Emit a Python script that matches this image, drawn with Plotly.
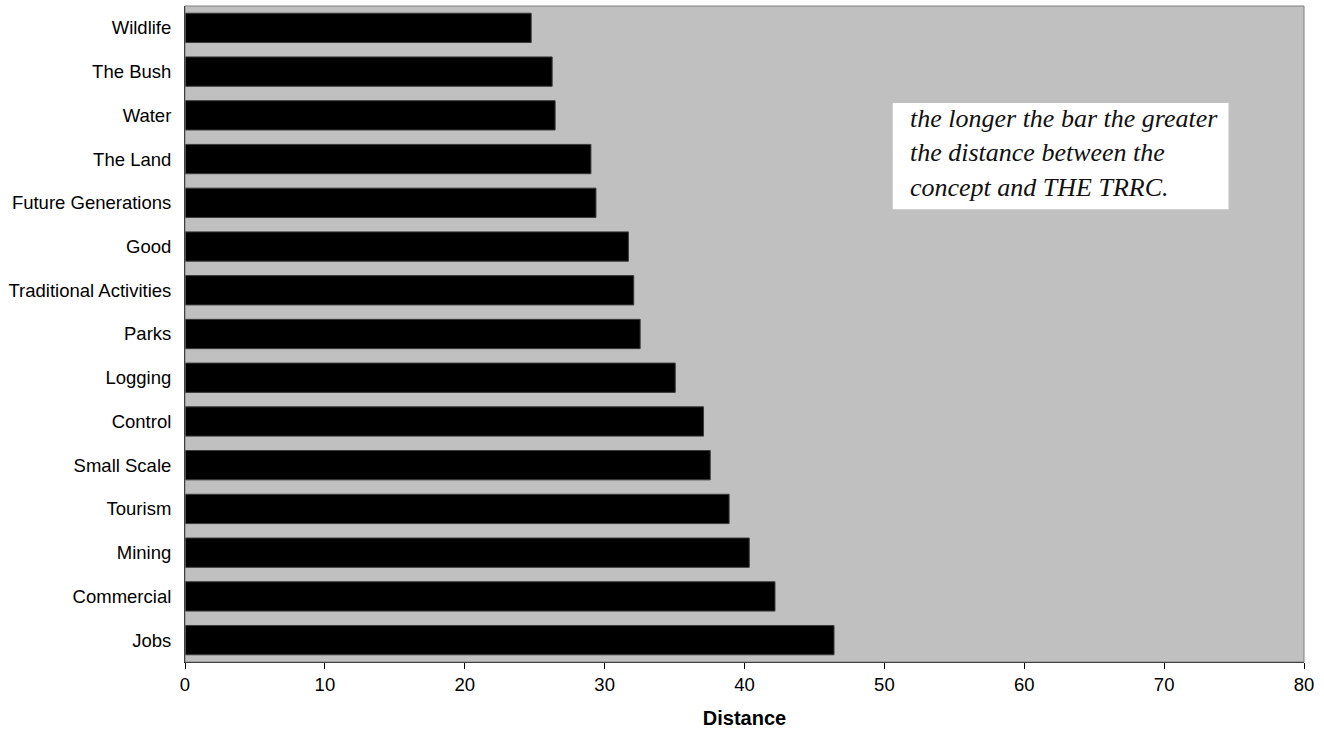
import plotly.graph_objects as go

categories = ["Wildlife", "The Bush", "Water", "The Land", "Future Generations", "Good",
              "Traditional Activities", "Parks", "Logging", "Control", "Small Scale",
              "Tourism", "Mining", "Commercial", "Jobs"]
distance = [24.75, 26.25, 26.46, 29.02, 29.38, 31.7, 32.08, 32.54, 35.05, 37.07,
            37.55, 38.9, 40.34, 42.18, 46.4]
x_ticks = [0, 10, 20, 30, 40, 50, 60, 70, 80]
note_lines = ["the longer the bar the greater", "the distance between the",
              "concept and THE TRRC."]

fig = go.Figure()
fig.add_trace(go.Bar(
    y=categories, x=distance, orientation="h",
    marker=dict(color="#000000", line=dict(color="#3a3a3a", width=1)),
    hoverinfo="x+y",
))

fig.update_layout(
    width=1324, height=730, autosize=False,
    margin=dict(l=185, r=20, t=6, b=68),
    paper_bgcolor="white", plot_bgcolor="#C0C0C0",
    bargap=0.33, showlegend=False,
    font=dict(family="Liberation Sans, Arial, sans-serif", color="black"),
)
fig.update_xaxes(
    range=[0, 80], tickvals=x_ticks, ticktext=[str(v) for v in x_ticks],
    showgrid=False, zeroline=False, showline=True, linecolor="#000000", linewidth=1,
    ticks="outside", ticklen=6, tickcolor="#000000",
    tickfont=dict(size=18.5),
    title=dict(text="<b>Distance</b>", font=dict(size=20), standoff=16),
)
fig.update_yaxes(
    autorange="reversed", showgrid=False, zeroline=False,
    showline=True, linecolor="#000000", linewidth=1, ticks="",
    tickfont=dict(size=18.5), ticklabelstandoff=9,
)
# plot area border (top/right)
fig.add_shape(type="rect", xref="paper", yref="paper", x0=0, x1=1, y0=0, y1=1,
              line=dict(color="#808080", width=1), layer="above")
# note box
fig.add_shape(type="rect", xref="x", yref="paper", x0=50.6, x1=74.6, y0=0.690, y1=0.852,
              fillcolor="white", line=dict(width=0), layer="above")
for i, line in enumerate(note_lines):
    fig.add_annotation(xref="x", yref="paper", x=51.7, y=0.828 - i * 0.052,
                       text="<i>" + line + "</i>", showarrow=False,
                       xanchor="left", yanchor="middle",
                       font=dict(family="Liberation Serif, Times New Roman, serif", size=26,
                                 color="#111111"))

fig.write_html("out.html", config={"displayModeBar": False},
               post_script="document.body.style.margin='0';")
